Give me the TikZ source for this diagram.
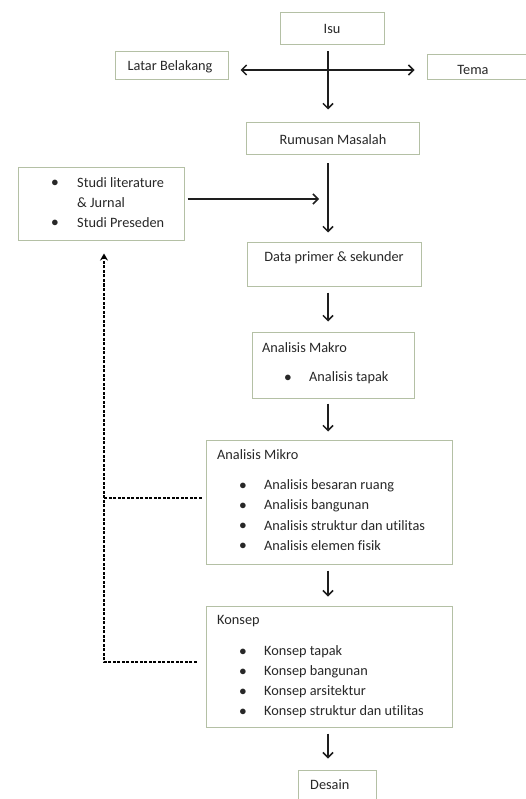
\documentclass[tikz,border=0pt]{standalone}
\usepackage{fontspec}
\setmainfont{Carlito}[Ligatures={NoCommon}]
\usetikzlibrary{arrows.meta}
\definecolor{boxc}{RGB}{180,192,165}
\definecolor{txt}{RGB}{40,40,40}
\definecolor{arrc}{RGB}{30,30,30}
\tikzset{
  box/.style={draw=boxc, line width=1pt, fill=white, inner sep=0pt, minimum width=#1},
  lbl/.style={text=txt, font=\fontsize{14.3}{17}\selectfont, inner sep=0pt},
  arr/.style={draw=arrc, line width=1.4pt, -{Straight Barb[length=5pt,width=10pt,line width=1.5pt]}},
  darr/.style={draw=arrc, line width=1.4pt, {Straight Barb[length=5pt,width=10pt,line width=1.5pt]}-{Straight Barb[length=5pt,width=10pt,line width=1.5pt]}},
  dsh/.style={draw=black, line width=1.2pt, dash pattern=on 3pt off 1.5pt},
  dend/.style={-{Stealth[length=7pt,width=8pt]}}
}
\begin{document}
\begin{tikzpicture}[x=1pt,y=-1pt]
\useasboundingbox (0,0) rectangle (525,799);
% boxes
\node[box=104, minimum height=32] (isu) at (332,29) {};
\node[lbl] (tisu) at (332,29) {Isu};
\node[box=113, minimum height=28] (latar) at (171.5,66) {};
\node[lbl] (tlatar) at (170,67) {Latar Belakang};
\node[box=100, minimum height=25] (tema) at (477,67.5) {};
\node[lbl] (ttema) at (473,70) {Tema};
\node[box=173, minimum height=32] (rumusan) at (332.5,139) {};
\node[lbl] (trumusan) at (333,140) {Rumusan Masalah};
\node[box=166, minimum height=73] (studi) at (101,204.5) {};
\node[lbl] (b1) at (55,183) {$\bullet$};
\node[lbl, anchor=west] (s1) at (77,183) {Studi literature};
\node[lbl, anchor=west] (s2) at (77,203) {\& Jurnal};
\node[lbl] (b2) at (55,223) {$\bullet$};
\node[lbl, anchor=west] (s3) at (77,223) {Studi Preseden};
\node[box=174, minimum height=43] (data) at (334,264.5) {};
\node[lbl] (tdata) at (334,258) {Data primer \& sekunder};
\node[box=162, minimum height=66] (makro) at (333,365) {};
\node[lbl, anchor=west] (tmakro) at (262,348) {Analisis Makro};
\node[lbl] (b3) at (288,378) {$\bullet$};
\node[lbl, anchor=west] (m1) at (309,378) {Analisis tapak};
\node[box=246, minimum height=124] (mikro) at (329,502) {};
\node[lbl, anchor=west] (tmikro) at (217,455) {Analisis Mikro};
\foreach \y/\t [count=\i] in {486/Analisis besaran ruang,506/Analisis bangunan,526/Analisis struktur dan utilitas,546/Analisis elemen fisik}{
  \node[lbl] (mb\i) at (243,\y) {$\bullet$};
  \node[lbl, anchor=west] (mt\i) at (264,\y) {\t};
}
\node[box=246, minimum height=121] (konsep) at (329,666.5) {};
\node[lbl, anchor=west] (tkonsep) at (217,621) {Konsep};
\foreach \y/\t [count=\i] in {652/Konsep tapak,672/Konsep bangunan,692/Konsep arsitektur,712/Konsep struktur dan utilitas}{
  \node[lbl] (kb\i) at (243,\y) {$\bullet$};
  \node[lbl, anchor=west] (kt\i) at (264,\y) {\t};
}
\node[box=78, minimum height=40] (desain) at (337,790) {};
\node[lbl, anchor=west] (tdesain) at (310,785) {Desain};
% helper coordinates
\coordinate (hx) at (328,0);
\coordinate (hy) at (0,70);
\coordinate (jy) at (0,199);
\coordinate (dx) at (104,0);
\coordinate (my) at (0,498);
\coordinate (ky) at (0,662);
% connectors
\draw[arr, shorten <=6pt, shorten >=13pt] (hx |- isu.south) -- (hx |- rumusan.north);
\draw[darr, shorten <=12pt, shorten >=12pt] (latar.east |- hy) -- (tema.west |- hy);
\draw[arr, shorten <=3pt, shorten >=9pt] (studi.east |- jy) -- (hx |- jy);
\draw[arr, shorten <=8pt, shorten >=10pt] (hx |- rumusan.south) -- (hx |- data.north);
\draw[arr, shorten <=6pt, shorten >=10pt] (hx |- data.south) -- (hx |- makro.north);
\draw[arr, shorten <=5pt, shorten >=8pt] (hx |- makro.south) -- (hx |- mikro.north);
\draw[arr, shorten <=6pt, shorten >=9pt] (hx |- mikro.south) -- (hx |- konsep.north);
\draw[arr, shorten <=6pt, shorten >=11pt] (hx |- konsep.south) -- (hx |- desain.north);
% dashed feedback
\draw[dsh, shorten <=4pt] (mikro.west |- my) -- (dx |- my);
\draw[dsh, dend, shorten <=9pt, shorten >=12pt] (konsep.west |- ky) -- (dx |- ky) -- (dx |- studi.south);
\end{tikzpicture}
\end{document}
